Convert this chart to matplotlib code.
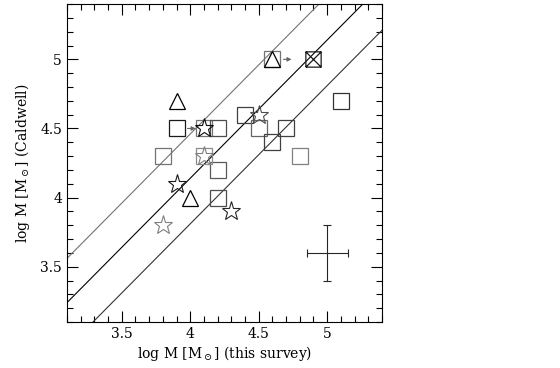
import numpy as np
import matplotlib
matplotlib.use("Agg")
import matplotlib.pyplot as plt
from matplotlib.path import Path
from matplotlib.ticker import MultipleLocator

plt.rcParams['font.family'] = ['DejaVu Serif']
plt.rcParams['mathtext.fontset'] = 'dejavuserif'

# data
sq_x = [3.8, 3.9, 4.1, 4.2, 4.2, 4.2, 4.1, 4.4, 4.5, 4.6, 4.7, 4.8, 5.1, 4.6]
sq_y = [4.3, 4.5, 4.5, 4.5, 4.2, 4.0, 4.3, 4.6, 4.5, 4.4, 4.5, 4.3, 4.7, 5.0]
sq_c = ['0.45', '0.1', '0.45', '0.3', '0.35', '0.3', '0.55', '0.25', '0.4', '0.25', '0.25', '0.5', '0.2', '0.45']

tri_x = [3.9, 4.0, 4.6]
tri_y = [4.7, 4.0, 5.0]

star_x = [4.1, 4.1, 4.5, 3.9, 4.3, 3.8]
star_y = [4.5, 4.3, 4.6, 4.1, 3.9, 3.8]
star_c = ['0.05', '0.5', '0.3', '0.1', '0.15', '0.5']

cross_x = [4.9]
cross_y = [5.0]

# lower limits (arrows)
arr_start = [(3.96, 4.5), (4.66, 5.0)]
arr_end = [(4.06, 4.5), (4.76, 5.0)]

# relation lines y = x + offset
offsets = [0.46, 0.14, -0.19]
line_c = ['0.45', '0.0', '0.2']

# typical error bar
err_x, err_y = 5.0, 3.6
err_dx, err_dy = 0.15, 0.2

fig = plt.figure(figsize=(5.6, 3.68), dpi=100)
ax = fig.add_axes([0.1196, 0.125, 0.5625, 0.864])

xx = np.array([3.0, 5.5])
for off, c in zip(offsets, line_c):
    ax.plot(xx, xx + off, color=c, lw=0.8)

for x, y, c in zip(sq_x, sq_y, sq_c):
    ax.plot(x, y, marker='s', ms=11, mfc='none', mec=c, mew=0.9, ls='none')

ax.plot(tri_x, tri_y, marker='^', ms=12, mfc='none', mec='k', mew=0.9, ls='none')

for x, y, c in zip(star_x, star_y, star_c):
    ax.plot(x, y, marker='*', ms=14, mfc='none', mec=c, mew=0.8, ls='none')

crossbox = Path([(-1, -1), (1, -1), (1, 1), (-1, 1), (-1, -1), (-1, -1), (1, 1), (-1, 1), (1, -1)],
                [1, 2, 2, 2, 2, 1, 2, 1, 2])
ax.plot(cross_x, cross_y, marker=crossbox, ms=11, mfc='none', mec='0.1', mew=0.9, ls='none')

for s, e in zip(arr_start, arr_end):
    ax.annotate('', xy=e, xytext=s,
                arrowprops=dict(arrowstyle='-|>', color='0.4', lw=0.8, mutation_scale=6))

ax.errorbar(err_x, err_y, xerr=err_dx, yerr=err_dy, color='0.15', lw=0.8,
            capsize=3, capthick=0.8)

ax.set_xlim(3.1, 5.4)
ax.set_ylim(3.1, 5.4)
ax.xaxis.set_major_locator(MultipleLocator(0.5))
ax.yaxis.set_major_locator(MultipleLocator(0.5))
ax.xaxis.set_minor_locator(MultipleLocator(0.1))
ax.yaxis.set_minor_locator(MultipleLocator(0.1))
ax.xaxis.set_major_formatter(plt.FuncFormatter(lambda v, p: '%g' % v))
ax.yaxis.set_major_formatter(plt.FuncFormatter(lambda v, p: '%g' % v))
ax.tick_params(which='both', direction='in', top=True, right=True, labelsize=10, width=0.8)
ax.tick_params(which='major', length=8)
ax.tick_params(which='minor', length=4)
for sp in ax.spines.values():
    sp.set_linewidth(0.8)

ax.set_xlabel(r'log M [M$_\odot$] (this survey)', fontsize=10, labelpad=2)
ax.set_ylabel(r'log M [M$_\odot$] (Caldwell)', fontsize=10, labelpad=6)

fig.savefig('out.png', dpi=100)
